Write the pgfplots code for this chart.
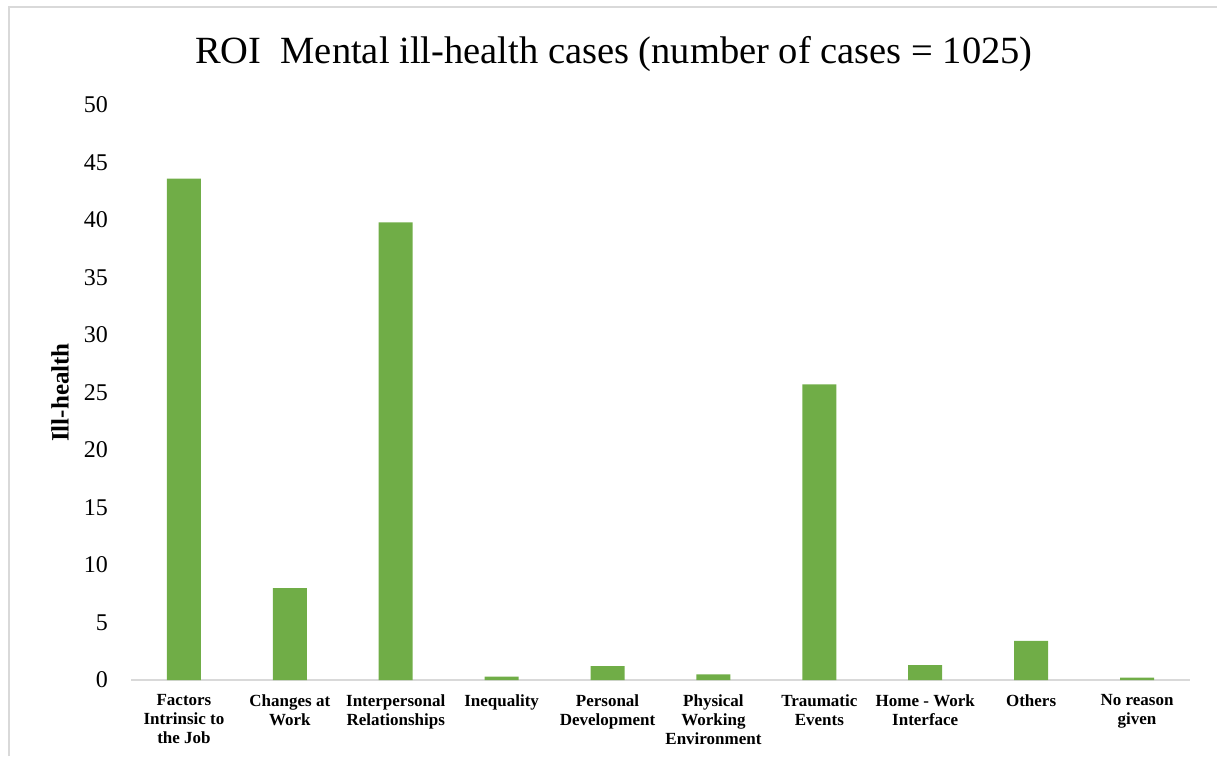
\documentclass[border=0pt]{standalone}
\usepackage{fontspec}
\setmainfont{Liberation Serif}
\usepackage{pgfplots}
\pgfplotsset{compat=1.18}
\definecolor{bargreen}{HTML}{70AD47}
\definecolor{axgray}{HTML}{D9D9D9}
\begin{document}
\begin{tikzpicture}[x=1pt,y=1pt]
\path[use as bounding box] (0,0) rectangle (1217,756);
\draw[axgray, line width=1.5pt] (9,0) -- (9,749) -- (1217,749);
\begin{axis}[
  at={(131pt,76pt)}, anchor=south west,
  scale only axis, width=1059pt, height=575pt,
  xmin=-0.5, xmax=9.5, ymin=0, ymax=50,
  ytick={0,5,...,50},
  xtick={0,...,9},
  xticklabels={{Factors\\Intrinsic to\\the Job},{Changes at\\Work},{Interpersonal\\Relationships},{Inequality},{Personal\\Development},{Physical\\Working\\Environment},{Traumatic\\Events},{Home - Work\\Interface},{Others},{No reason\\given}},
  axis x line*=bottom, axis y line*=left,
  x axis line style={axgray, line width=1.5pt, -},
  y axis line style={draw=none},
  tick style={draw=none},
  /pgf/number format/assume math mode=true,
  yticklabel style={font=\fontsize{24}{26}\selectfont, inner sep=0pt, xshift=-23pt},
  xticklabel style={font=\bfseries\fontsize{17}{19}\selectfont, align=center, inner sep=0pt, yshift=-10pt},
  ylabel={Ill-health},
  ylabel style={font=\bfseries\fontsize{25}{28}\selectfont, at={(axis description cs:-0.067,0.5)}, anchor=center},
  title={ROI\ \ Mental ill-health cases (number of cases = 1025)},
  title style={font=\fontsize{38.5}{42}\selectfont, at={(axis description cs:0.456,1.061)}, anchor=base},
  ybar, bar width=34pt,
]
\addplot[fill=bargreen, draw=none] coordinates {
(0,43.6) (1,8.0) (2,39.8) (3,0.3) (4,1.2) (5,0.5) (6,25.7) (7,1.3) (8,3.4) (9,0.2)};
\end{axis}
\end{tikzpicture}
\end{document}
